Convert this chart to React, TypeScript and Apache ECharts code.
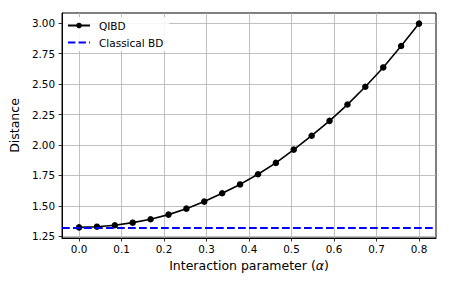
import React, { useEffect, useRef } from "react";
import * as echarts from "echarts";

const alphaValues = [
  0.0, 0.0421, 0.0842, 0.1263, 0.1684, 0.2105, 0.2526, 0.2947, 0.3368, 0.3789,
  0.4211, 0.4632, 0.5053, 0.5474, 0.5895, 0.6316, 0.6737, 0.7158, 0.7579, 0.8,
];
const qibdValues = [
  1.323, 1.329, 1.341, 1.362, 1.39, 1.428, 1.477, 1.535, 1.604, 1.676,
  1.76, 1.853, 1.962, 2.076, 2.198, 2.332, 2.478, 2.637, 2.813, 2.997,
];
const classicalBD = 1.32;
const xTicks = [0.0, 0.1, 0.2, 0.3, 0.4, 0.5, 0.6, 0.7, 0.8];
const yTicks = [1.25, 1.5, 1.75, 2.0, 2.25, 2.5, 2.75, 3.0];

const FONT = "DejaVu Sans";
const DASH_ICON = "path://M0,0h7.5v2.2h-7.5z M10.8,0h7.5v2.2h-7.5z M21.6,0h0.9v2.2h-0.9z";

export default function App() {
  const ref = useRef<HTMLDivElement>(null);
  useEffect(() => {
    if (!ref.current) return;
    const chart = echarts.init(ref.current, null, { renderer: "svg" });
    const axisCommon = {
      axisLine: { show: true, onZero: false, lineStyle: { color: "#000", width: 1 } },
      axisTick: { show: true, inside: false, length: 3.5, lineStyle: { color: "#000", width: 0.8 } },
      splitLine: { show: true, lineStyle: { color: "#b0b0b0", width: 0.8 } },
    };
    chart.setOption({
      animation: false,
      backgroundColor: "#fff",
      textStyle: { fontFamily: FONT },
      grid: {
        left: 59,
        top: 13,
        width: 377,
        height: 225,
        containLabel: false,
        show: true,
        borderColor: "#000",
        borderWidth: 1,
        backgroundColor: "transparent",
      },
      legend: {
        orient: "vertical",
        left: 63,
        top: 17,
        padding: [3, 6, 3, 4],
        itemWidth: 22,
        itemHeight: 7,
        itemGap: 6,
        backgroundColor: "rgba(255,255,255,0.85)",
        textStyle: { fontFamily: FONT, fontSize: 10.5, color: "#000", padding: [0, 0, 0, 4] },
        data: [
          { name: "QIBD" },
          { name: "Classical BD", icon: DASH_ICON, itemStyle: { color: "#0000ff" } },
        ],
      },
      xAxis: {
        type: "value",
        min: -0.04,
        max: 0.84,
        ...axisCommon,
        axisTick: { ...axisCommon.axisTick, customValues: xTicks },
        axisLabel: {
          customValues: xTicks,
          margin: 6,
          fontFamily: FONT,
          fontSize: 10.4,
          color: "#000",
          formatter: (v: number) => v.toFixed(1),
        },
        name: "Interaction parameter ({a|α})",
        nameLocation: "middle",
        nameGap: 19,
        nameTextStyle: {
          fontFamily: FONT,
          fontSize: 12.5,
          color: "#000",
          rich: { a: { fontFamily: FONT, fontSize: 12.5, fontStyle: "italic", color: "#000" } },
        },
      },
      yAxis: {
        type: "value",
        min: 1.236,
        max: 3.084,
        ...axisCommon,
        axisTick: { ...axisCommon.axisTick, customValues: yTicks },
        axisLabel: {
          customValues: yTicks,
          margin: 7,
          fontFamily: FONT,
          fontSize: 10.4,
          color: "#000",
          formatter: (v: number) => v.toFixed(2),
        },
        name: "Distance",
        nameLocation: "middle",
        nameRotate: 90,
        nameGap: 34,
        nameTextStyle: { fontFamily: FONT, fontSize: 12.5, color: "#000" },
      },
      series: [
        {
          name: "QIBD",
          type: "line",
          data: alphaValues.map((a, i) => [a, qibdValues[i]]),
          symbol: "circle",
          symbolSize: 6.5,
          itemStyle: { color: "#000" },
          lineStyle: { color: "#000", width: 1.6 },
          z: 3,
        },
        {
          name: "Classical BD",
          type: "line",
          data: [],
          symbol: "none",
          itemStyle: { color: "#0000ff" },
          lineStyle: { color: "#0000ff", width: 2.2, type: [7.7, 3.3] },
          markLine: {
            silent: true,
            symbol: "none",
            label: { show: false },
            lineStyle: { color: "#0000ff", width: 2.2, type: [7.7, 3.3] },
            data: [{ yAxis: classicalBD }],
          },
          z: 2,
        },
      ],
    });
    return () => chart.dispose();
  }, []);
  return (
    <div
      ref={ref}
      style={{ position: "absolute", left: 0, top: 0, width: 449, height: 288 }}
    />
  );
}
